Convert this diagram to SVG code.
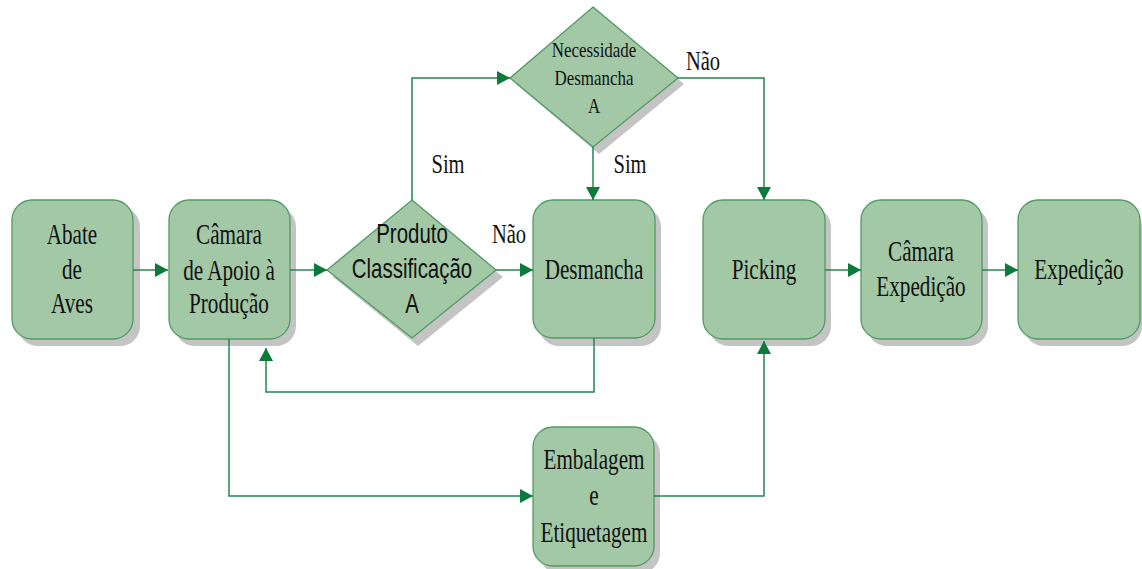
<svg xmlns="http://www.w3.org/2000/svg" width="1142" height="569" viewBox="0 0 1142 569">
<defs>
<style>
.box{fill:#a3c8a6;stroke:#4f9a62;stroke-width:1.3}
.sh{fill:#c4c4c4}
.t{font-family:"Liberation Serif",serif;font-size:29px;fill:#111;text-anchor:middle}
.ts{font-family:"Liberation Sans",sans-serif;font-size:28px;fill:#111;text-anchor:middle}
.tn{font-family:"Liberation Serif",serif;font-size:22px;fill:#111;text-anchor:middle}
.lb{font-family:"Liberation Serif",serif;font-size:27px;fill:#111;text-anchor:middle}
.c{fill:none;stroke:#1e8a4c;stroke-width:1.5}
</style>
<marker id="ah" markerWidth="13" markerHeight="14" refX="13" refY="7" orient="auto" markerUnits="userSpaceOnUse">
<path d="M0,0 L13,7 L0,14 z" fill="#0b7a3b"/>
</marker>
</defs>
<rect width="1142" height="569" fill="#fff"/>

<g id="abate">
<rect class="sh" x="18" y="207" width="122" height="139" rx="20"/>
<rect class="box" x="12" y="200" width="121" height="139" rx="20"/>
<text class="t" transform="translate(72,244) scale(0.73,1)">Abate</text>
<text class="t" transform="translate(72,279) scale(0.73,1)">de</text>
<text class="t" transform="translate(72,313) scale(0.73,1)">Aves</text>
</g>

<g id="camara-apoio">
<rect class="sh" x="175" y="207" width="121" height="139" rx="20"/>
<rect class="box" x="169" y="200" width="121" height="139" rx="20"/>
<text class="t" transform="translate(229,244) scale(0.73,1)">Câmara</text>
<text class="t" transform="translate(229,280) scale(0.73,1)">de Apoio à</text>
<text class="t" transform="translate(229,313) scale(0.73,1)">Produção</text>
</g>

<g id="produto-classificacao">
<path class="sh" d="M418,207 L503,277 L418,346 L333,277 z"/>
<path class="box" d="M412,200 L496,270 L412,338 L327,270 z"/>
<text class="ts" transform="translate(412,243) scale(0.73,1)">Produto</text>
<text class="ts" transform="translate(412,278) scale(0.73,1)">Classificação</text>
<text class="ts" transform="translate(412,313) scale(0.73,1)">A</text>
</g>

<g id="necessidade">
<path class="sh" d="M599,14 L684,84 L599,154 L516,84 z"/>
<path class="box" d="M593,7 L678,78 L593,147 L510,78 z"/>
<text class="tn" transform="translate(594,57) scale(0.77,1)">Necessidade</text>
<text class="tn" transform="translate(594,85) scale(0.77,1)">Desmancha</text>
<text class="tn" transform="translate(594,113) scale(0.77,1)">A</text>
</g>

<g id="desmancha">
<rect class="sh" x="539" y="207" width="122" height="139" rx="20"/>
<rect class="box" x="533" y="200" width="122" height="138" rx="20"/>
<text class="t" transform="translate(594,279) scale(0.73,1)">Desmancha</text>
</g>

<g id="picking">
<rect class="sh" x="709" y="207" width="122" height="139" rx="20"/>
<rect class="box" x="703" y="200" width="122" height="139" rx="20"/>
<text class="t" transform="translate(764,279) scale(0.73,1)">Picking</text>
</g>

<g id="camara-expedicao">
<rect class="sh" x="867" y="207" width="121" height="139" rx="20"/>
<rect class="box" x="861" y="200" width="121" height="139" rx="20"/>
<text class="t" transform="translate(921,261) scale(0.73,1)">Câmara</text>
<text class="t" transform="translate(921,296) scale(0.73,1)">Expedição</text>
</g>

<g id="expedicao">
<rect class="sh" x="1024" y="207" width="118" height="139" rx="20"/>
<rect class="box" x="1018" y="200" width="122" height="139" rx="20"/>
<text class="t" transform="translate(1079,279) scale(0.73,1)">Expedição</text>
</g>

<g id="embalagem">
<rect class="sh" x="539" y="434" width="121" height="139" rx="20"/>
<rect class="box" x="533" y="427" width="121" height="139" rx="20"/>
<text class="t" transform="translate(594,469) scale(0.73,1)">Embalagem</text>
<text class="t" transform="translate(594,505) scale(0.73,1)">e</text>
<text class="t" transform="translate(594,542) scale(0.73,1)">Etiquetagem</text>
</g>

<g id="connectors">
<path class="c" d="M133,270 H168" marker-end="url(#ah)"/>
<path class="c" d="M290,270 H327" marker-end="url(#ah)"/>
<path class="c" d="M496,270 H533" marker-end="url(#ah)"/>
<path class="c" d="M412,200 V78 H510" marker-end="url(#ah)"/>
<path class="c" d="M593,147 V200" marker-end="url(#ah)"/>
<path class="c" d="M678,78 H764 V200" marker-end="url(#ah)"/>
<path class="c" d="M825,270 H861" marker-end="url(#ah)"/>
<path class="c" d="M982,270 H1018" marker-end="url(#ah)"/>
<path class="c" d="M594,338 V392 H266 V348" marker-end="url(#ah)"/>
<path class="c" d="M229,339 V496 H533" marker-end="url(#ah)"/>
<path class="c" d="M654,496 H764 V341" marker-end="url(#ah)"/>
</g>

<g id="labels">
<text class="lb" transform="translate(448,173) scale(0.76,1)">Sim</text>
<text class="lb" transform="translate(630,173) scale(0.76,1)">Sim</text>
<text class="lb" transform="translate(703,70) scale(0.76,1)">Não</text>
<text class="lb" transform="translate(509,243) scale(0.76,1)">Não</text>
</g>
</svg>
